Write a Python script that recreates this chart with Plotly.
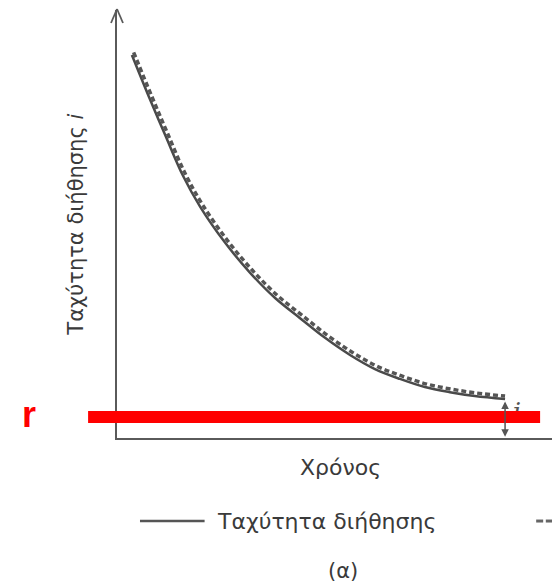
import plotly.graph_objects as go

# Data
time = [0.34, 0.75, 1.10, 1.51, 1.90, 2.47, 3.04, 3.61, 4.18, 4.75, 5.32, 5.89, 6.46, 7.03, 7.60, 8.17, 8.86]
infiltration_rate = [8.95, 7.92, 7.08, 6.12, 5.40, 4.56, 3.86, 3.27, 2.80, 2.34, 1.94, 1.61, 1.38, 1.19, 1.07, 0.98, 0.91]
time_dashed = [0.38, 0.79, 1.14, 1.55, 1.94, 2.51, 3.08, 3.65, 4.22, 4.79, 5.36, 5.93, 6.50, 7.07, 7.64, 8.21, 8.86]
capacity = [9.01, 7.99, 7.15, 6.19, 5.47, 4.63, 3.93, 3.34, 2.87, 2.41, 2.01, 1.68, 1.45, 1.26, 1.14, 1.05, 0.98]
final_rate = 0.49
ylabel = "Ταχύτητα διήθησης <i>i</i>"
xlabel = "Χρόνος"
legend_solid = "Ταχύτητα διήθησης"
caption = "(α)"

FONT = "DejaVu Sans"
GREY = "#3a3a3a"

fig = go.Figure()
fig.add_trace(go.Scatter(x=time, y=infiltration_rate, mode="lines",
                         line=dict(color="#4a4a4a", width=2.5, shape="spline", smoothing=1.0), showlegend=False))
fig.add_trace(go.Scatter(x=time_dashed, y=capacity, mode="lines",
                         line=dict(color="#555555", width=3.5, dash="5px,3px", shape="spline", smoothing=1.0), showlegend=False))
# small i label by the double arrow (mostly hidden by the red line)
fig.add_trace(go.Scatter(x=[9.13], y=[final_rate + 0.05], mode="text", text=["<i>i</i>"],
                         textfont=dict(family="DejaVu Serif", size=26, color="#555"), showlegend=False))

# page body has an 8px margin: figure is shifted by 8px, so compensate
fig.update_layout(
    width=552, height=579,
    margin=dict(l=109, r=5, t=2, b=149),
    paper_bgcolor="white", plot_bgcolor="white",
    xaxis=dict(range=[0, 10], showgrid=False, zeroline=False, showticklabels=False, ticks="",
               showline=True, linecolor="#5a5a5a", linewidth=2),
    yaxis=dict(range=[0, 10], showgrid=False, zeroline=False, showticklabels=False, ticks="",
               showline=True, linecolor="#5a5a5a", linewidth=2),
    font=dict(family=FONT, color=GREY),
)

# y-axis open arrow head (paper-referenced so it is not clipped)
for dx in (-6, 6):
    fig.add_shape(type="line", xref="paper", yref="paper", xsizemode="pixel", ysizemode="pixel",
                  xanchor=0, yanchor=1, x0=0, y0=1, x1=dx, y1=-13,
                  line=dict(color="#5a5a5a", width=1.8))
# double arrow at the end of the curve
fig.add_annotation(x=8.86, y=0.03, ax=8.86, ay=infiltration_rate[-1] - 0.02, xref="x", yref="y", axref="x", ayref="y",
                   showarrow=True, arrowhead=2, arrowside="end+start", arrowsize=1, arrowwidth=1.5,
                   arrowcolor="#555", text="")

# red line "r"
fig.add_shape(type="line", xref="paper", yref="y", x0=-0.066, x1=0.966, y0=final_rate, y1=final_rate,
              line=dict(color="#ff0000", width=12), layer="above")
fig.add_annotation(xref="paper", yref="paper", x=-0.2, y=0.055, text="<b>r</b>", showarrow=False,
                   font=dict(family="Liberation Sans", size=36, color="#ff0000"), xanchor="center", yanchor="middle")

# axis titles
fig.add_annotation(xref="paper", yref="paper", x=-0.094, y=0.498, text=ylabel, textangle=-90, showarrow=False,
                   font=dict(family=FONT, size=21, color=GREY), xanchor="center", yanchor="middle")
fig.add_annotation(xref="paper", yref="paper", x=0.511, y=-0.068, text=xlabel, showarrow=False,
                   font=dict(family=FONT, size=22, color=GREY), xanchor="center", yanchor="middle")

# manual legend
fig.add_shape(type="line", xref="paper", yref="paper", x0=0.0525, x1=0.2, y0=-0.194, y1=-0.194,
              line=dict(color="#555", width=2.5))
fig.add_annotation(xref="paper", yref="paper", x=0.224, y=-0.194, text=legend_solid, showarrow=False,
                   font=dict(family=FONT, size=22, color=GREY), xanchor="left", yanchor="middle")
for x0, x1 in ((0.957, 0.973), (0.979, 0.995)):
    fig.add_shape(type="line", xref="paper", yref="paper", x0=x0, x1=x1, y0=-0.194, y1=-0.194,
                  line=dict(color="#666", width=3))
fig.add_annotation(xref="paper", yref="paper", x=0.516, y=-0.311, text=caption, showarrow=False,
                   font=dict(family=FONT, size=21, color=GREY), xanchor="center", yanchor="middle")

fig.write_html("out.html")
